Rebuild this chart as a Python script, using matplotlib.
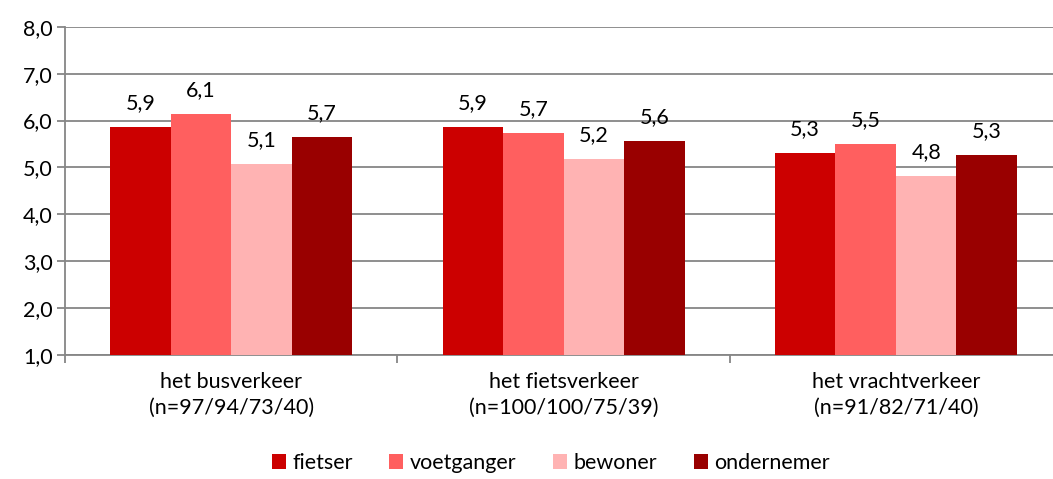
import matplotlib.pyplot as plt
import numpy as np

# data
categories = ["het busverkeer\n(n=97/94/73/40)",
              "het fietsverkeer\n(n=100/100/75/39)",
              "het vrachtverkeer\n(n=91/82/71/40)"]
groups = ["fietser", "voetganger", "bewoner", "ondernemer"]
fietser = [5.86, 5.86, 5.30]
voetganger = [6.13, 5.73, 5.49]
bewoner = [5.08, 5.18, 4.81]
ondernemer = [5.66, 5.57, 5.26]
colors = ["#CC0000", "#FF5F5F", "#FFB3B3", "#990000"]
yticks = np.arange(1, 9)

plt.rcParams['font.family'] = ['Lato', 'DejaVu Sans']
fs = 15.5

fig = plt.figure(figsize=(10.53, 4.79), dpi=100)
ax = fig.add_axes([0.0617, 0.259, 0.947, 0.685])

x = np.arange(len(categories))
width = 0.182
series = [fietser, voetganger, bewoner, ondernemer]
for i, (name, vals, c) in enumerate(zip(groups, series, colors)):
    pos = x + (i - 1.5) * width
    ax.bar(pos, np.array(vals) - 1, width, bottom=1, color=c, label=name, zorder=3)
    for xp, v in zip(pos, vals):
        ax.annotate(f"{v:.1f}".replace(".", ","), (xp, v), xytext=(0, 10),
                    textcoords="offset points", ha="center", va="bottom", fontsize=fs)

ax.set_ylim(1, 8)
ax.set_xlim(-0.5, 2.5)
ax.set_yticks(yticks)
ax.set_yticklabels([f"{v:.1f}".replace(".", ",") for v in yticks], fontsize=fs)
ax.yaxis.grid(True, color="#868686", linewidth=1.3, zorder=0)

# category boundaries as ticks, labels at centers
ax.set_xticks([-0.5, 0.5, 1.5, 2.5])
ax.set_xticklabels([])
ax.set_xticks(x, minor=True)
ax.set_xticklabels(categories, minor=True, fontsize=fs, linespacing=1.4)
ax.tick_params(axis="x", which="minor", length=0, pad=12)
ax.tick_params(axis="x", which="major", length=6, color="#868686", width=1.3)
ax.tick_params(axis="y", length=6, color="#868686", width=1.3, pad=3)

for s in ["top", "right"]:
    ax.spines[s].set_visible(False)
for s in ["left", "bottom"]:
    ax.spines[s].set_color("#868686")
    ax.spines[s].set_linewidth(1.3)

fig.legend(loc="lower center", bbox_to_anchor=(0.523, -0.028), ncol=4, frameon=False,
           fontsize=fs, handlelength=0.65, handleheight=0.65, handletextpad=0.3,
           columnspacing=1.7)

fig.savefig("out.png", dpi=100)
